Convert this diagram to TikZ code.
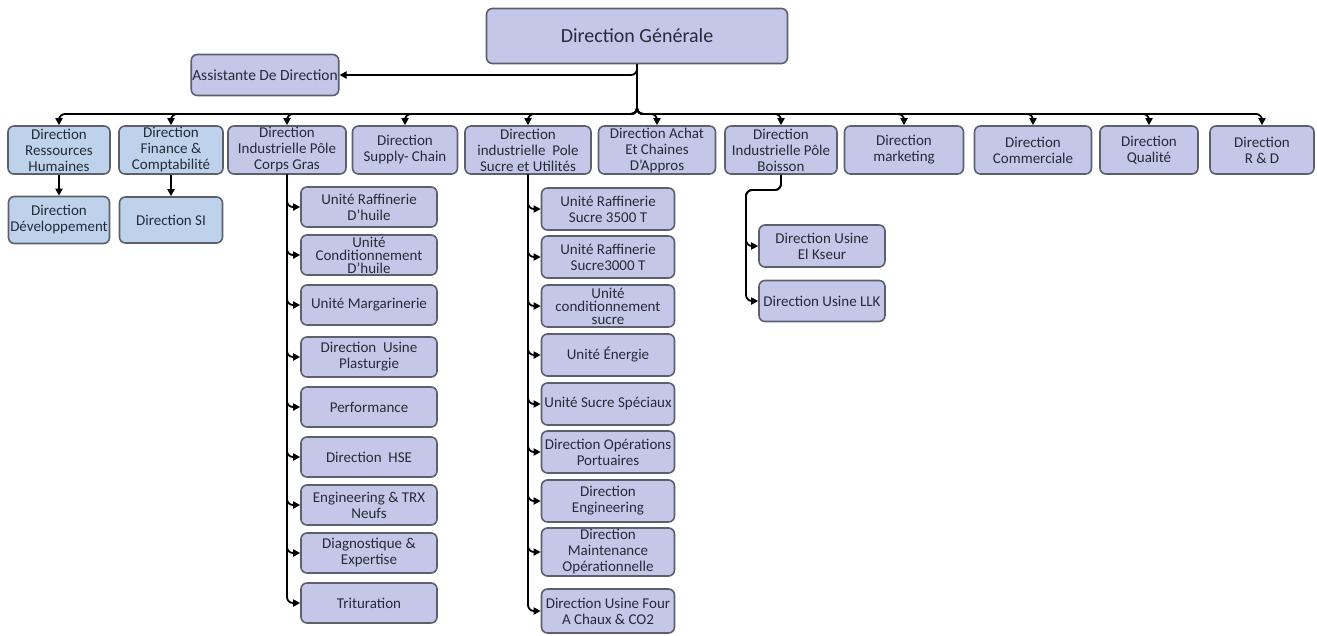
\documentclass[tikz,border=0pt]{standalone}
\usepackage{fontspec}
\setmainfont{Carlito}
\usepackage{tikz}
\usetikzlibrary{positioning,arrows.meta}
\definecolor{OrgLav}{RGB}{196,199,232}
\definecolor{OrgBlue}{RGB}{190,210,236}
\definecolor{OrgEdge}{RGB}{92,95,108}
\definecolor{OrgText}{RGB}{36,44,56}
\tikzset{
    orgbox/.style={rectangle, rounded corners=6pt, draw=OrgEdge, line width=1.6pt, fill=OrgLav, text=OrgText, align=center, inner sep=1pt, font=\fontsize{15}{16}\selectfont},
    bluebox/.style={orgbox, fill=OrgBlue},
    boxsize/.style 2 args={minimum width=#1pt, minimum height=#2pt},
    plainbox/.style={},
    tightbox/.style={font=\fontsize{15}{13}\selectfont}
}

\begin{document}
\begin{tikzpicture}[
        x=1pt, y=-1pt,
        % Style des liaisons
        link/.style={
            draw=black,
            line width=1.8pt,
            rounded corners=6pt,
            -{Triangle[length=7pt,width=7pt]}
        }
    ]
        \useasboundingbox (0,0) rectangle (1317,635);

        % --- DIRECTION GENERALE ---
        \node[orgbox, boxsize={301}{55}, font=\fontsize{20}{22}\selectfont] (dg) at (637,36) {Direction Générale};
        \node[orgbox, boxsize={146}{41}, font=\fontsize{15.5}{17}\selectfont] (assist) at (265,75) {Assistante De Direction};
        \coordinate (bar) at (0,114);

        % --- PREMIER NIVEAU ---
        \node[bluebox, boxsize={102}{48}] (rh) at (59,150) {Direction\\Ressources\\Humaines};
        \node[bluebox, boxsize={104}{48}] (fin) at (171,150) {Direction\\Finance \&\\Comptabilité};
        \node[orgbox, boxsize={118}{48}] (cg) at (287,150) {Direction\\Industrielle Pôle\\Corps Gras};
        \node[orgbox, boxsize={105}{48}] (supply) at (405,150) {Direction\\Supply- Chain};
        \node[orgbox, boxsize={126}{48}] (sucre) at (528,150) {Direction\\industrielle\ \ Pole\\Sucre et Utilités};
        \node[orgbox, boxsize={117}{48}] (achat) at (657,150) {Direction Achat\\Et Chaines\\D’Appros};
        \node[orgbox, boxsize={112}{48}] (boisson) at (781,150) {Direction\\Industrielle Pôle\\Boisson};
        \node[orgbox, boxsize={119}{48}] (mkt) at (904,150) {Direction\\marketing};
        \node[orgbox, boxsize={117}{48}] (com) at (1033,150) {Direction\\Commerciale};
        \node[orgbox, boxsize={98}{48}] (qual) at (1149,150) {Direction\\Qualité};
        \node[orgbox, boxsize={104}{48}] (rd) at (1262,150) {Direction\\R \& D};

        \draw[link] (dg.south) |- (assist.east);
        \foreach \b in {rh,fin,cg,supply,sucre,achat,boisson,mkt,com,qual,rd} {
            \draw[link] (dg.south) |- (\b.north |- bar) -- (\b.north);
        }

        % --- RH ET FINANCE ---
        \node[bluebox, boxsize={101}{47}] (dev) at (59,220) {Direction\\Développement};
        \node[bluebox, boxsize={103}{46}] (si) at (171,220) {Direction SI};
        \draw[link] (rh) -- (dev);
        \draw[link] (fin) -- (si);

        % --- POLE CORPS GRAS ---
        \foreach \n/\y/\s/\t in {
            cg1/207/plainbox/{Unité Raffinerie\\D’huile},
            cg2/255/tightbox/{Unité\\Conditionnement\\D’huile},
            cg3/305/plainbox/{Unité Margarinerie},
            cg4/357/plainbox/{Direction\ \ Usine\\Plasturgie},
            cg5/407/plainbox/{Performance},
            cg6/457/plainbox/{Direction\ \ HSE},
            cg7/505/plainbox/{Engineering \& TRX\\Neufs},
            cg8/553/plainbox/{Diagnostique \&\\Expertise},
            cg9/603/plainbox/{Trituration}} {
            \node[orgbox, \s, boxsize={136}{40}] (\n) at (369,\y) {\t};
            \draw[link] (cg.south) |- (\n.west);
        }

        % --- POLE SUCRE ET UTILITES ---
        \foreach \n/\y/\h/\s/\t in {
            su1/209/42/plainbox/{Unité Raffinerie\\Sucre 3500 T},
            su2/257/42/plainbox/{Unité Raffinerie\\Sucre3000 T},
            su3/306/42/tightbox/{Unité\\conditionnement\\sucre},
            su4/355/42/plainbox/{Unité Énergie},
            su5/404/42/plainbox/{Unité Sucre Spéciaux},
            su6/452/42/plainbox/{Direction Opérations\\Portuaires},
            su7/501/42/plainbox/{Direction\\Engineering},
            su8/552/48/plainbox/{Direction\\Maintenance\\Opérationnelle},
            su9/611/44/plainbox/{Direction Usine Four\\A Chaux \& CO2}} {
            \node[orgbox, \s, boxsize={133}{\h}] (\n) at (608,\y) {\t};
            \draw[link] (sucre.south) |- (\n.west);
        }

        % --- POLE BOISSON ---
        \coordinate (bojog) at (746,190);
        \node[orgbox, boxsize={126}{42}] (bo1) at (822,246) {Direction Usine\\El Kseur};
        \node[orgbox, boxsize={126}{41}] (bo2) at (822,301) {Direction Usine LLK};
        \foreach \n in {bo1,bo2} {
            \draw[link] (boisson.south) |- (bojog) |- (\n.west);
        }

    \end{tikzpicture}
\end{document}
